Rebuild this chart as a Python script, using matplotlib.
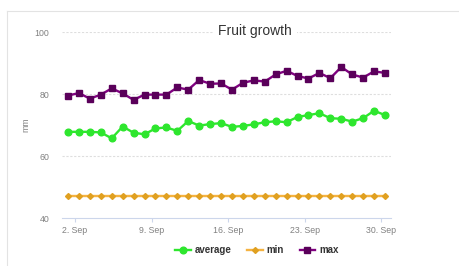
import matplotlib
matplotlib.use("Agg")
import matplotlib.pyplot as plt
from matplotlib.lines import Line2D
import numpy as np

# ---- data ----
days = [1, 2, 3, 4, 5, 6, 7, 8, 9, 10, 11, 12, 13, 14, 15,
        16, 17, 18, 19, 20, 21, 22, 23, 24, 25, 26, 27, 28, 29, 30]   # September
average = [67.8, 67.8, 67.8, 67.6, 65.7, 69.5, 67.5, 67.0, 68.9, 69.2,
           68.1, 71.3, 69.8, 70.3, 70.6, 69.4, 69.7, 70.2, 70.9, 71.2,
           70.9, 72.6, 73.2, 73.8, 72.2, 72.0, 71.1, 72.2, 74.6, 73.2]
minimum = [47.0] * 30
maximum = [79.5, 80.3, 78.5, 79.8, 81.8, 80.2, 78.1, 79.8, 79.8, 79.8,
           82.1, 81.4, 84.5, 83.3, 83.4, 81.4, 83.6, 84.4, 84.0, 86.3,
           87.5, 85.8, 85.0, 86.8, 85.1, 88.7, 86.3, 85.3, 87.3, 86.8]
tick_days = [2, 9, 16, 23, 30]
tick_labels = ["2. Sep", "9. Sep", "16. Sep", "23. Sep", "30. Sep"]
y_ticks = [40, 60, 80, 100]
title = "Fruit growth"
series_names = ["average", "min", "max"]

plt.rcParams['font.family'] = ['Liberation Sans', 'DejaVu Sans']

W, H = 459, 266
fig = plt.figure(figsize=(W / 100, H / 100), dpi=100)
fig.patch.set_facecolor("white")

# outer frame (top and left edges visible)
fig.add_artist(Line2D([7 / W, 1], [1 - 11 / H, 1 - 11 / H], color="#e3e3e3", lw=0.8))
fig.add_artist(Line2D([7 / W, 7 / W], [0, 1 - 11 / H], color="#e3e3e3", lw=0.8))

left, right, top, bottom = 62, 391, 32, 218
ax = fig.add_axes([left / W, 1 - bottom / H, (right - left) / W, (bottom - top) / H])

x = np.array(days, dtype=float) + 0.36   # points sit a few hours after midnight

green = "#2ee62e"
orange = "#f5b342"
purple = "#800080"

ax.plot(x, average, color=green, lw=1.7, marker="o", ms=4.8, mfc=green, mec=green, zorder=3)
ax.plot(x, minimum, color=orange, lw=1.7, marker="D", ms=3.0, mfc="#e0a020", mec="#e0a020", zorder=3)
ax.plot(x, maximum, color=purple, lw=1.7, marker="s", ms=4.8, mfc="#5a005a", mec="#5a005a", zorder=3)

ax.set_xlim(x[0] - 0.55, x[-1] + 0.55)
ax.set_ylim(40, 100)
ax.set_yticks(y_ticks)
ax.set_yticklabels([str(v) for v in y_ticks])
ax.set_xticks(tick_days)
ax.set_xticklabels(tick_labels)

for v in y_ticks[1:]:
    ax.axhline(v, color="#dedede", lw=0.8, ls=(0, (2, 1.5)), zorder=1)

for s in ["top", "right", "left"]:
    ax.spines[s].set_visible(False)
ax.spines["bottom"].set_color("#ccd6eb")
ax.spines["bottom"].set_linewidth(0.8)

ax.tick_params(axis="y", length=0, pad=9, labelsize=6.3, labelcolor="#808080")
ax.tick_params(axis="x", length=3, width=0.8, color="#ccd6eb", pad=3, labelsize=6.3, labelcolor="#808080")

ax.set_ylabel("mm", fontsize=6.3, color="#808080", labelpad=3)

fig.text(255 / W, 1 - 31 / H, title, ha="center", va="center", fontsize=10, color="#333333",
         bbox=dict(boxstyle="square,pad=0.35", fc="white", ec="none"), zorder=5)

handles = [
    Line2D([], [], color=green, lw=1.7, marker="o", ms=4.8, mfc=green, mec=green),
    Line2D([], [], color=orange, lw=1.7, marker="D", ms=3.0, mfc="#e0a020", mec="#e0a020"),
    Line2D([], [], color=purple, lw=1.7, marker="s", ms=4.8, mfc="#5a005a", mec="#5a005a"),
]
leg = fig.legend(handles, series_names, loc="center", bbox_to_anchor=(257 / W, 1 - 250 / H),
                 ncol=3, frameon=False, handlelength=1.6, handletextpad=0.4, columnspacing=1.6,
                 prop={"size": 7, "weight": "bold"})
for t in leg.get_texts():
    t.set_color("#333333")

fig.savefig("out.png", dpi=100, facecolor="white")
